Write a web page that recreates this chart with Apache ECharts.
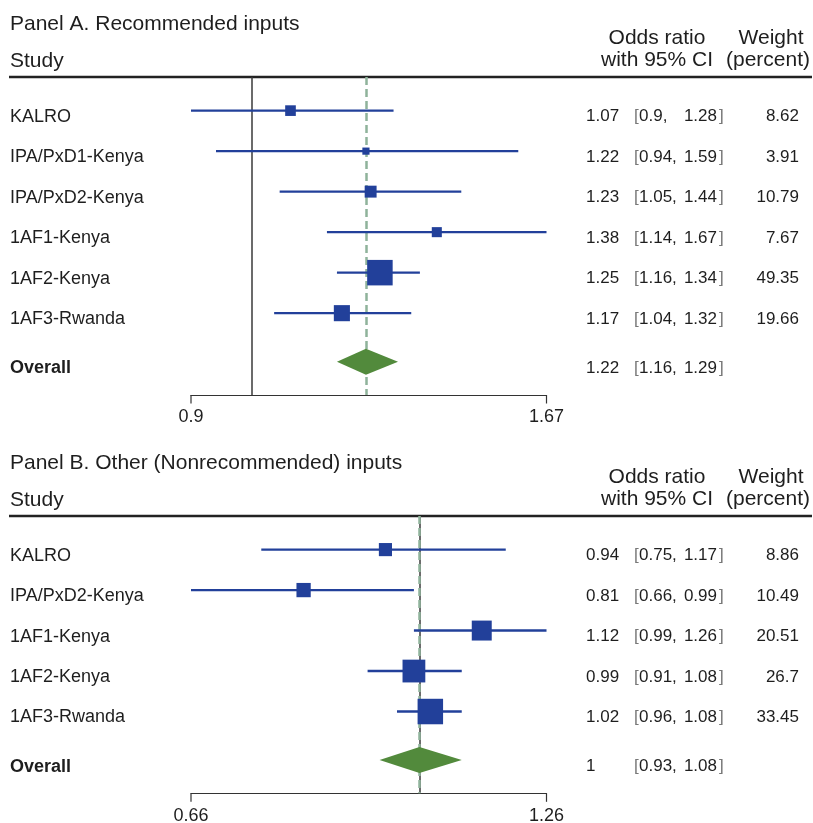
<!DOCTYPE html>
<html>
<head>
<meta charset="utf-8">
<title>Forest plot</title>
<script src="https://cdn.jsdelivr.net/npm/echarts@6/dist/echarts.min.js"></script>
<style>
  html, body { margin: 0; padding: 0; background: #fff; }
  #chart { width: 813px; height: 823px; }
</style>
</head>
<body>
<div id="chart"></div>
<script>
// Panel A. Recommended inputs
var studiesA = ['KALRO', 'IPA/PxD1-Kenya', 'IPA/PxD2-Kenya', '1AF1-Kenya', '1AF2-Kenya', '1AF3-Rwanda'];
var orA = [1.07, 1.22, 1.23, 1.38, 1.25, 1.17];
var loA = [0.9, 0.94, 1.05, 1.14, 1.16, 1.04];
var hiA = [1.28, 1.59, 1.44, 1.67, 1.34, 1.32];
var weightA = [8.62, 3.91, 10.79, 7.67, 49.35, 19.66];
var overallA = [1.22, 1.16, 1.29]; // or, lo, hi
var ticksA = [0.9, 1.67];

// Panel B. Other (Nonrecommended) inputs
var studiesB = ['KALRO', 'IPA/PxD2-Kenya', '1AF1-Kenya', '1AF2-Kenya', '1AF3-Rwanda'];
var orB = [0.94, 0.81, 1.12, 0.99, 1.02];
var loB = [0.75, 0.66, 0.99, 0.91, 0.96];
var hiB = [1.17, 0.99, 1.26, 1.08, 1.08];
var weightB = [8.86, 10.49, 20.51, 26.7, 33.45];
var overallB = [1, 0.93, 1.08];
var ticksB = [0.66, 1.26];

var FONT = '"Liberation Sans", Arial, Helvetica, sans-serif';
var TXT = '#1e1e1e';
var BLUE = '#22409a';
var GREEN = '#528a3c';
var DASH = '#8fb39b';

var chart = echarts.init(document.getElementById('chart'));

function txt(x, y, s, align, opts) {
  opts = opts || {};
  return {
    type: 'text', x: x, y: y, silent: true,
    style: {
      text: s, align: align || 'left', verticalAlign: 'middle',
      fill: opts.fill || TXT, fontSize: opts.size || 18,
      fontFamily: FONT, fontWeight: opts.weight || 'normal'
    }
  };
}

// table text columns for one row
function tableCells(ty, or, lo, hi, w) {
  var cells = [
    txt(586, ty, String(or), 'left', {size: 17}),
    txt(634, ty, '[', 'left', {fill: '#777', size: 17}),
    txt(639, ty, lo + ',', 'left', {size: 17}),
    txt(717, ty, String(hi), 'right', {size: 17}),
    txt(719, ty, ']', 'left', {fill: '#777', size: 17})
  ];
  if (w != null) cells.push(txt(799, ty, String(w), 'right', {size: 17}));
  return cells;
}

function studyRender(names, weights) {
  var wmax = Math.max.apply(null, weights);
  return function (params, api) {
    var i = api.value(1);
    var p = api.coord([api.value(0), i]);
    var a = api.coord([api.value(2), i]);
    var b = api.coord([api.value(3), i]);
    var s = 25.5 * Math.sqrt(api.value(4) / wmax);
    var ty = p[1] + 6;
    var children = [
      {type: 'line', shape: {x1: a[0], y1: p[1], x2: b[0], y2: p[1]}, style: {stroke: BLUE, lineWidth: 2.4}},
      {type: 'rect', shape: {x: p[0] - s / 2, y: p[1] - s / 2, width: s, height: s}, style: {fill: BLUE}},
      txt(10, ty, names[i], 'left')
    ];
    return {type: 'group', children: children.concat(
      tableCells(ty, api.value(0), api.value(2), api.value(3), api.value(4)))};
  };
}

function overallRender(params, api) {
  var y = api.value(1);
  var c = api.coord([api.value(0), y]);
  var l = api.coord([api.value(2), y]);
  var r = api.coord([api.value(3), y]);
  var h = 13;
  var ty = c[1] + 6.5;
  return {type: 'group', children: [
    {type: 'polygon', shape: {points: [[l[0], c[1]], [c[0], c[1] - h], [r[0], c[1]], [c[0], c[1] + h]]},
     style: {fill: GREEN}},
    txt(10, ty, 'Overall', 'left', {weight: 'bold'})
  ].concat(tableCells(ty, api.value(0), api.value(2), api.value(3), null))};
}

function tickRender(params, api) {
  var p = api.coord([api.value(0), api.value(1)]);
  return {type: 'group', children: [
    {type: 'line', shape: {x1: p[0], y1: p[1], x2: p[0], y2: p[1] + 8.5}, style: {stroke: '#333', lineWidth: 1.2}},
    txt(p[0], p[1] + 22.5, String(api.value(0)), 'center')
  ]};
}

function panel(idx, studies, or, lo, hi, w, overall, ticks) {
  var n = studies.length;
  var yMax = n + 1.02;
  var series = [
    {
      // reference lines sit under the markers
      type: 'custom', xAxisIndex: idx, yAxisIndex: idx,
      renderItem: function () { return null; }, data: [],
      z: 1,
      markLine: {
        silent: true, symbol: ['none', 'none'], label: {show: false}, animation: false, z: 1,
        data: [
          {xAxis: 1, lineStyle: {color: '#3a3a3a', width: 1.5, type: 'solid'}},
          {xAxis: overall[0], lineStyle: {color: DASH, width: 2.5, type: [8, 4]}}
        ]
      }
    },
    {
      type: 'custom', xAxisIndex: idx, yAxisIndex: idx,
      renderItem: studyRender(studies, w), encode: {x: 0, y: 1},
      data: or.map(function (v, i) { return [v, i, lo[i], hi[i], w[i]]; }),
      z: 6
    },
    {
      type: 'custom', xAxisIndex: idx, yAxisIndex: idx,
      renderItem: overallRender, encode: {x: 0, y: 1},
      data: [[overall[0], n + 0.2, overall[1], overall[2]]],
      z: 6
    },
    {
      type: 'custom', xAxisIndex: idx, yAxisIndex: idx,
      renderItem: tickRender, encode: {x: 0, y: 1},
      data: ticks.map(function (t) { return [t, yMax]; }),
      z: 6
    }
  ];
  var xAxis = {
    type: 'log', logBase: 10, gridIndex: idx, min: ticks[0], max: ticks[1],
    axisLine: {show: true, onZero: false, lineStyle: {color: '#333', width: 1.2}},
    axisTick: {show: false}, axisLabel: {show: false}, splitLine: {show: false}
  };
  var yAxis = {
    type: 'value', gridIndex: idx, inverse: true, min: -0.83, max: yMax, show: false
  };
  return {series: series, xAxis: xAxis, yAxis: yAxis};
}

var pA = panel(0, studiesA, orA, loA, hiA, weightA, overallA, ticksA);
var pB = panel(1, studiesB, orB, loB, hiB, weightB, overallB, ticksB);

function header(top, title) {
  return [
    txt(10, top - 53, title, 'left', {size: 21}),
    txt(10, top - 16, 'Study', 'left', {size: 21}),
    txt(657, top - 39, 'Odds ratio', 'center', {size: 21}),
    txt(657, top - 16.5, 'with 95% CI', 'center', {size: 21}),
    txt(771, top - 39, 'Weight', 'center', {size: 21}),
    txt(768, top - 16.5, '(percent)', 'center', {size: 21}),
    {type: 'rect', silent: true, shape: {x: 9, y: top - 1.3, width: 803, height: 2.6}, style: {fill: '#222'}}
  ];
}

var option = {
  animation: false,
  backgroundColor: '#fff',
  grid: [
    {left: 191, width: 355.5, top: 77, height: 318},
    {left: 191, width: 355.5, top: 516, height: 277.3}
  ],
  xAxis: [pA.xAxis, pB.xAxis],
  yAxis: [pA.yAxis, pB.yAxis],
  series: pA.series.concat(pB.series),
  graphic: header(77, 'Panel A. Recommended inputs').concat(header(516, 'Panel B. Other (Nonrecommended) inputs'))
};

chart.setOption(option);
</script>
</body>
</html>
